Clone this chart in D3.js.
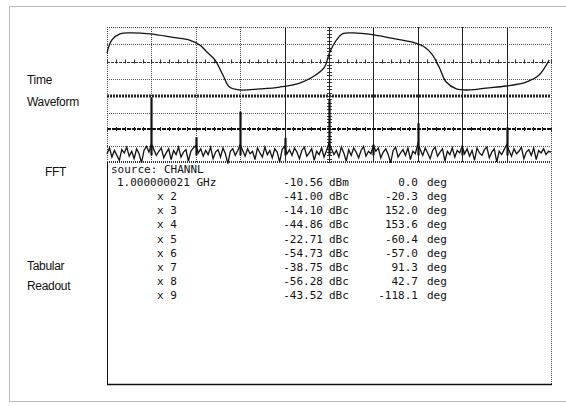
<!DOCTYPE html>
<html>
<head>
<meta charset="utf-8">
<script src="https://cdn.jsdelivr.net/npm/d3@7"></script>
<style>
  html, body { margin: 0; padding: 0; background: #fff; }
  svg { display: block; }
</style>
</head>
<body>
<svg id="chart" width="566" height="406"></svg>
<script>
// ---------- DATA ----------
// Time waveform: time in graticule divisions, amplitude in divisions
const timeDiv  = [0, 0.11, 0.29, 0.52, 0.97, 1.48, 1.87, 2.09, 2.25, 2.43, 2.61, 2.76, 2.99, 3.44, 3.89, 4.34, 4.63, 4.90, 5.01, 5.17, 5.30, 5.53, 5.98, 6.43, 6.88, 7.15, 7.33, 7.49, 7.64, 7.87, 8.16, 8.54, 8.99, 9.44, 9.73, 9.96];
const timeVolt = [0.49, 1.25, 1.60, 1.66, 1.60, 1.40, 1.23, 0.96, 0.55, 0.09, -0.78, -1.48, -1.65, -1.59, -1.48, -1.25, -0.90, -0.32, 0.49, 1.25, 1.60, 1.66, 1.56, 1.34, 1.12, 0.84, 0.38, -0.38, -1.19, -1.59, -1.65, -1.54, -1.42, -1.19, -0.78, 0.09];

const harmonicGHz = [1, 2, 3, 4, 5, 6, 7, 8, 9];
const spikeDbm    = [-2, -50, -19, -51, -4, -59, -33, -65, -38];
const fftNoise = [
  -70,-63,-74,-66,-72,-78,-65,-69,-62,-73,-67,-76,-64,-70,-81,-66,-61,-68,
  -58,-65,-72,-67,-63,-75,-69,-64,-77,-66,-71,-62,-74,-68,-65,-79,-67,-63,
  -60,-69,-64,-73,-66,-71,-62,-76,-68,-65,-74,-63,-70,-82,-67,-64,-72,-66,
  -59,-66,-73,-64,-70,-67,-77,-63,-69,-74,-62,-71,-66,-75,-64,-68,-80,-65,
  -61,-70,-65,-72,-63,-68,-76,-66,-62,-73,-69,-64,-78,-67,-71,-63,-74,-66,
  -57,-64,-71,-66,-74,-62,-69,-79,-65,-72,-63,-68,-75,-66,-61,-73,-67,-70,
  -60,-67,-63,-75,-68,-64,-71,-81,-66,-62,-74,-69,-65,-72,-63,-77,-67,-70,
  -58,-65,-72,-63,-69,-76,-66,-62,-73,-68,-64,-79,-67,-71,-63,-74,-66,-69,
  -61,-70,-64,-73,-66,-78,-63,-69,-72,-65,-62,-75,-68,-64,-80,-67,-71,-65,
  -59,-66,-73,-64,-70,-67,-62,-76,-68,-65,-72,-63,-77,-66,-69,-64,-71,-67,
  -68];

// Tabular readout
const sourceLabel = "source: CHANNL";
const rowLabels   = ["1.000000021 GHz", "x 2", "x 3", "x 4", "x 5", "x 6", "x 7", "x 8", "x 9"];
const levelVals   = [-10.56, -41.00, -14.10, -44.86, -22.71, -54.73, -38.75, -56.28, -43.52];
const levelUnits  = ["dBm", "dBc", "dBc", "dBc", "dBc", "dBc", "dBc", "dBc", "dBc"];
const phaseVals   = [0.0, -20.3, 152.0, 153.6, -60.4, -57.0, 91.3, 42.7, -118.1];

const sideLabels = ["Time", "Waveform", "FFT", "Tabular", "Readout"];

// ---------- LAYOUT ----------
const svg = d3.select("#chart");
const L = 107, R = 551;
const timeTop = 27, timeBot = 96, fftBot = 162, tableBot = 384;

const x = d3.scaleLinear().domain([0, 10]).range([L, R]);
const yT = d3.scaleLinear().domain([-2, 2]).range([timeBot, timeTop]);
const yF = d3.scaleLinear().domain([-80, 0]).range([fftBot, timeBot]);

// outer frame
svg.append("rect").attr("x", 9.5).attr("y", 6.5).attr("width", 570).attr("height", 395)
  .attr("fill", "none").attr("stroke", "#777").attr("stroke-width", 1).attr("stroke-dasharray", "1,1");

// ---------- GRID ----------
const g = svg.append("g");
const dotted = { stroke: "#555", "stroke-width": 1, "stroke-dasharray": "1,1" };
function hline(y, attrs) {
  const l = g.append("line").attr("x1", L).attr("x2", R).attr("y1", y).attr("y2", y);
  Object.entries(attrs).forEach(([k, v]) => l.attr(k, v));
}
// time panel horizontal lines
[2, 1, -1].forEach(v => hline(Math.round(yT(v)) + 0.5, dotted));
hline(Math.round(yT(0)) + 0.5, { stroke: "#333", "stroke-width": 1, "stroke-dasharray": "3,1" });
// fft panel horizontal lines
[-20, -60].forEach(v => hline(Math.round(yF(v)) + 0.5, dotted));
hline(Math.round(yF(-40)), { stroke: "#111", "stroke-width": 2, "stroke-dasharray": "4,1" });
hline(fftBot, { stroke: "#333", "stroke-width": 2, "stroke-dasharray": "1,1" });
// divider between time and fft panels
hline(timeBot, { stroke: "#222", "stroke-width": 3, "stroke-dasharray": "2,1" });

// vertical grid lines
d3.range(1, 10).forEach(d => {
  const xx = Math.round(x(d)) + 0.5;
  const l = g.append("line").attr("x1", xx).attr("x2", xx).attr("y1", timeTop).attr("y2", fftBot);
  if (d < 4) l.attr("stroke", "#444").attr("stroke-width", 1).attr("stroke-dasharray", "1,1");
  else l.attr("stroke", "#222").attr("stroke-width", 1);
});
// minor ticks on center lines
d3.range(0, 50.001, 1).forEach(i => {
  const xx = Math.round(x(i / 5)) + 0.5;
  g.append("line").attr("x1", xx).attr("x2", xx)
    .attr("y1", yT(0) - 2).attr("y2", yT(0) + 2).attr("stroke", "#333");
  g.append("line").attr("x1", xx).attr("x2", xx)
    .attr("y1", yF(-40) - 2).attr("y2", yF(-40) + 2).attr("stroke", "#222");
});
d3.range(0, 20.001, 1).forEach(i => {
  const yy = Math.round(yT(-2 + i / 5)) + 0.5;
  g.append("line").attr("x1", x(5) - 2).attr("x2", x(5) + 3)
    .attr("y1", yy).attr("y2", yy).attr("stroke", "#333");
});
d3.range(0, 20.001, 1).forEach(i => {
  const yy = Math.round(yF(-80 + i * 4)) + 0.5;
  g.append("line").attr("x1", x(5) - 2).attr("x2", x(5) + 3)
    .attr("y1", yy).attr("y2", yy).attr("stroke", "#333");
});

// panel borders
g.append("line").attr("x1", L).attr("x2", R).attr("y1", timeTop + 0.5).attr("y2", timeTop + 0.5)
  .attr("stroke", "#444").attr("stroke-dasharray", "1,1");
g.append("line").attr("x1", L + 0.5).attr("x2", L + 0.5).attr("y1", timeTop).attr("y2", fftBot)
  .attr("stroke", "#444").attr("stroke-dasharray", "1,1");
g.append("line").attr("x1", L + 0.5).attr("x2", L + 0.5).attr("y1", fftBot).attr("y2", tableBot)
  .attr("stroke", "#111").attr("stroke-width", 1);
g.append("line").attr("x1", R + 0.5).attr("x2", R + 0.5).attr("y1", timeTop).attr("y2", tableBot)
  .attr("stroke", "#444").attr("stroke-dasharray", "1,1");
g.append("line").attr("x1", L).attr("x2", R + 1).attr("y1", tableBot + 0.5).attr("y2", tableBot + 0.5)
  .attr("stroke", "#111").attr("stroke-width", 1.3);

// ---------- TIME WAVEFORM ----------
const wave = timeDiv.map((t, i) => [t, timeVolt[i]]);
svg.append("path").datum(wave)
  .attr("fill", "none").attr("stroke", "#111").attr("stroke-width", 1.3)
  .attr("d", d3.line().x(d => x(d[0])).y(d => yT(d[1])).curve(d3.curveCatmullRom.alpha(0.5)));

// ---------- FFT ----------
const noiseStep = 10 / (fftNoise.length - 1);
svg.append("path").datum(fftNoise)
  .attr("fill", "none").attr("stroke", "#111").attr("stroke-width", 1.3)
  .attr("d", d3.line().x((d, i) => x(i * noiseStep)).y(d => yF(Math.max(d, -83))));
svg.selectAll(".spike").data(harmonicGHz).join("line")
  .attr("class", "spike")
  .attr("x1", d => Math.round(x(d)) + 0.5).attr("x2", d => Math.round(x(d)) + 0.5)
  .attr("y1", yF(-72))
  .attr("y2", (d, i) => yF(spikeDbm[i]))
  .attr("stroke", "#111").attr("stroke-width", 2.2);

// ---------- TABLE ----------
const mono = "'DejaVu Sans Mono', 'Liberation Mono', monospace";
const t = svg.append("g").attr("font-family", mono).attr("font-size", 11).attr("fill", "#111");
t.append("text").attr("x", 111).attr("y", 173).text(sourceLabel);
const rowY = d3.scaleLinear().domain([0, 8]).range([186, 299]);
rowLabels.forEach((lab, i) => {
  const yy = rowY(i);
  t.append("text").attr("x", i === 0 ? 117 : 157).attr("y", yy).text(lab);
  t.append("text").attr("x", 323).attr("y", yy).attr("text-anchor", "end").text(levelVals[i].toFixed(2));
  t.append("text").attr("x", 329).attr("y", yy).text(levelUnits[i]);
  t.append("text").attr("x", 418).attr("y", yy).attr("text-anchor", "end").text(phaseVals[i].toFixed(1));
  t.append("text").attr("x", 427).attr("y", yy).text("deg");
});

// ---------- SIDE LABELS ----------
const sidePos = [[27, 84], [27, 106], [45, 176], [27, 270], [27, 290]];
svg.append("g").attr("font-family", "'Liberation Sans', Arial, sans-serif").attr("font-size", 12)
  .attr("fill", "#111")
  .selectAll("text").data(sideLabels).join("text")
  .attr("x", (d, i) => sidePos[i][0]).attr("y", (d, i) => sidePos[i][1])
  .attr("letter-spacing", -0.3)
  .text(d => d);
</script>
</body>
</html>
